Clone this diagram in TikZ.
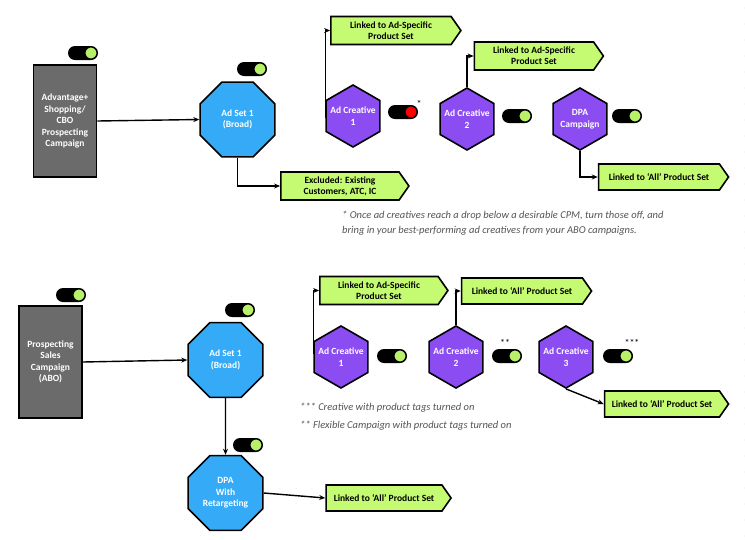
\documentclass[tikz,border=0pt]{standalone}
\usepackage{fontspec}
\setmainfont{Carlito}
\usetikzlibrary{shapes.geometric,shapes.symbols,arrows.meta}
\definecolor{gbox}{HTML}{6B6B6B}
\definecolor{bl}{HTML}{35AAF6}
\definecolor{pu}{HTML}{8B4CF2}
\definecolor{lg}{HTML}{C5FB72}
\definecolor{kn}{HTML}{B8F06A}
\definecolor{note}{HTML}{555555}
\begin{document}
\begin{tikzpicture}[x=1pt,y=-1pt,
 camp/.style={draw=black,line width=1.6pt,fill=gbox,minimum width=63pt,minimum height=112pt,text=white,font=\fontsize{9.5}{11.5}\selectfont\bfseries,align=center,text width=62pt,inner sep=0pt},
 oct/.style={regular polygon,regular polygon sides=8,minimum size=81pt,draw=black,line width=1.6pt,fill=bl,text=white,font=\fontsize{9.5}{11.5}\selectfont\bfseries,align=center,inner sep=0pt},
 hex/.style={regular polygon,regular polygon sides=6,shape border rotate=30,minimum size=62pt,draw=black,line width=1.6pt,fill=pu,inner sep=0pt,
   label={[text=white,font=\fontsize{9.5}{11.5}\selectfont\bfseries,align=center,inner sep=0pt]center:#1}},
 tag/.style={signal,signal to=east,signal from=nowhere,signal pointer angle=110,draw=black,line width=1.6pt,fill=lg,font=\fontsize{9.5}{11}\selectfont\bfseries,align=center,minimum height=28pt,inner sep=1pt},
 con/.style={line width=1.4pt,-{Stealth[length=6pt,width=5pt]}},
 nt/.style={font=\fontsize{10.5}{12}\selectfont\itshape,text=note,anchor=west,inner sep=0pt},
 tog/.pic={\fill[black,rounded corners=7pt] (-15,-7) rectangle (15,7);
   \filldraw[draw=black,line width=1pt,fill=\togc] (8,0) circle[radius=6];}]
\def\togc{kn}
\useasboundingbox (0,0) rectangle (745,539);
\fill[white] (0,0) rectangle (745,539);
\foreach \i in {0,...,46}{\foreach \j in {0,...,33}{\fill[black!15] (8+\i*16,8+\j*16) circle[radius=0.6];}}
% ---------- top ----------
\node[camp] (c1) at (65,121) {Advantage+\\Shopping/\\CBO\\Prospecting\\Campaign};
\node[oct] (a1) at (237.5,119.5) {Ad Set 1\\(Broad)};
\node[tag,minimum width=128pt] (ex) at (340,186) {Excluded: Existing\\Customers, ATC, IC};
\node[hex={Ad Creative\\1}] (h1) at (353,116) {};
\node[hex={Ad Creative\\2}] (h2) at (467,119) {};
\node[hex={DPA\\Campaign}] (h3) at (580,119) {};
\node[tag,minimum width=130pt] (t1) at (391,30.5) {Linked to Ad-Specific\\Product Set};
\node[tag,minimum width=129pt] (t2) at (534,56) {Linked to Ad-Specific\\Product Set};
\node[tag,minimum width=130pt,minimum height=26pt] (t3) at (659,177) {Linked to `All' Product Set};
\pic at (83,53) {tog};
\pic at (252,69) {tog};
{\def\togc{red}\pic at (403,112) {tog};}
\pic at (517,116) {tog};
\pic at (627,116) {tog};
\node[font=\fontsize{10}{10}\selectfont] (s1) at (419,104) {*};
\draw[con] (c1.east) -- (a1.west);
\draw[con] (a1.south) |- (ex.west);
\draw[con] (h1.west) ++(0,2) coordinate (p1) -- (p1 |- t1.west) -- (t1.west);
\draw[con] (h2.north) |- (t2.west);
\draw[con] (h3.south) |- (t3.west);
\node[nt] (n1) at (342,216) {* Once ad creatives reach a drop below a desirable CPM, turn those off, and};
\node[nt] (n2) at (342,231) {bring in your best-performing ad creatives from your ABO campaigns.};
% ---------- bottom ----------
\node[camp,minimum width=63pt] (c2) at (50.5,362) {Prospecting\\Sales\\Campaign\\(ABO)};
\node[oct] (a2) at (225.5,360) {Ad Set 1\\(Broad)};
\node[oct] (d2) at (225.5,493) {DPA\\With\\Retargeting};
\node[tag,minimum width=125pt,minimum height=26pt] (t6) at (384,498) {Linked to `All' Product Set};
\node[hex={Ad Creative\\1}] (g1) at (341,357) {};
\node[hex={Ad Creative\\2}] (g2) at (456,357) {};
\node[hex={Ad Creative\\3}] (g3) at (566,357) {};
\node[tag,minimum width=128pt] (t4) at (379,290.5) {Linked to Ad-Specific\\Product Set};
\node[tag,minimum width=130pt,minimum height=26pt] (t5) at (522,291) {Linked to `All' Product Set};
\node[tag,minimum width=124pt,minimum height=26pt] (t7) at (662,404) {Linked to `All' Product Set};
\pic at (71,295) {tog};
\pic at (240,310) {tog};
\pic at (248,445) {tog};
\pic at (392,356) {tog};
\pic at (507,356) {tog};
\pic at (618,356) {tog};
\node[font=\fontsize{10}{10}\selectfont] (s2) at (505,343) {**};
\node[font=\fontsize{10}{10}\selectfont] (s3) at (632,343) {***};
\draw[con] (c2.east) -- (a2.west);
\draw[con] (a2.south) -- (d2.north);
\draw[con] (d2.east) -- (t6.west);
\draw[con] (g1.west) ++(0,-3) coordinate (p2) -- (p2 |- t4.west) -- (t4.west);
\draw[con] (g2.north) |- (t5.west);
\draw[con] (g3.south) -- (t7.west);
\node[nt] (n3) at (300,408) {*** Creative with product tags turned on};
\node[nt] (n4) at (300,426) {** Flexible Campaign with product tags turned on};
\end{tikzpicture}
\end{document}
